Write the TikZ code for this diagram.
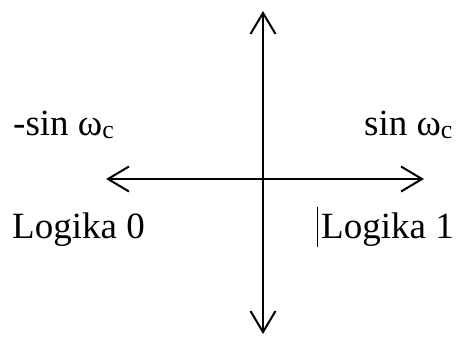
\documentclass[tikz,border=0pt]{standalone}
\usepackage{fontspec}
\setmainfont{Liberation Serif}
\usetikzlibrary{calc, positioning}
\usetikzlibrary{arrows.meta}

\tikzset{
  axis/.style={line width=2pt, -{Straight Barb[length=21pt,width=25pt,line width=2pt]}},
  lbl/.style={anchor=base west, inner sep=0pt, font=\fontsize{37}{40}\selectfont}
}

\begin{document}
\begin{tikzpicture}[x=1pt, y=-1pt]
\useasboundingbox (0,0) rectangle (457,338);
\coordinate (O) at (263,179);
\coordinate (L) at (106,179);
\coordinate (R) at (424,179);
\coordinate (T) at (263,11);
\coordinate (B) at (263,334);

\draw[axis] (O) -- (L);
\draw[axis] (O) -- (R);
\draw[axis] (O) -- (T);
\draw[axis] (O) -- (B);

\node[lbl] (negsin) at (13,135) {-sin ω\textsubscript{c}};
\node[lbl] (possin) at (364,135) {sin ω\textsubscript{c}};
\node[lbl] (logika0) at (12,238) {Logika 0};
\node[lbl] (logika1) at (321,238) {Logika 1};

% cursor mark
\coordinate (K1) at (317,207);
\coordinate (K2) at (317,247);
\draw[line width=1pt] (K1) -- (K2);
\end{tikzpicture}
\end{document}
